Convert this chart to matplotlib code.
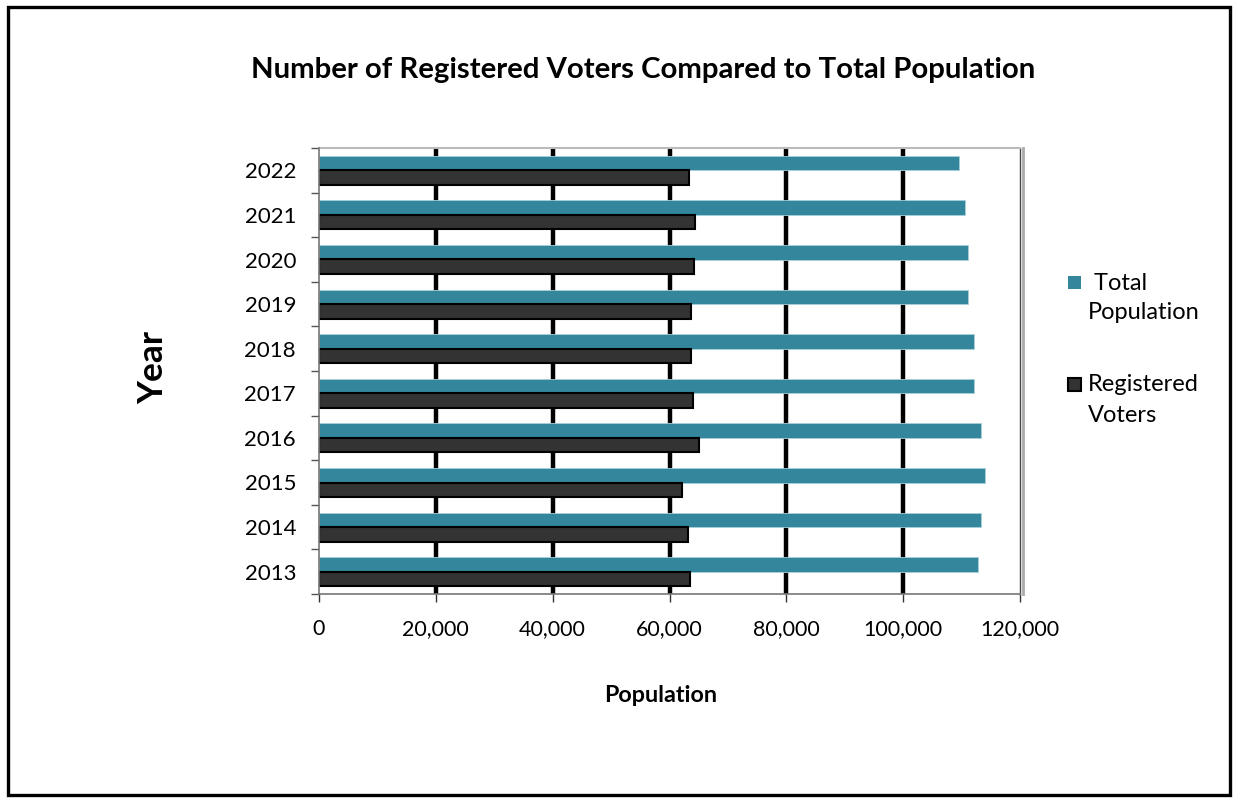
import matplotlib
matplotlib.use("Agg")
import matplotlib.pyplot as plt
from matplotlib.patches import Rectangle
from matplotlib.lines import Line2D
import numpy as np

years = ["2013", "2014", "2015", "2016", "2017", "2018", "2019", "2020", "2021", "2022"]
total_population = [112800, 113400, 114000, 113300, 112200, 112200, 111100, 111100, 110500, 109600]
registered_voters = [63500, 63200, 62100, 65000, 64000, 63700, 63600, 64200, 64400, 63300]
x_ticks = [0, 20000, 40000, 60000, 80000, 100000, 120000]
x_tick_labels = ["0", "20,000", "40,000", "60,000", "80,000", "100,000", "120,000"]

TEAL = "#33869c"
DARK = "#333333"

plt.rcParams["font.family"] = ["Lato", "DejaVu Sans"]

W, H = 1235, 798
fig = plt.figure(figsize=(W / 100, H / 100), dpi=100)
fig.patch.set_facecolor("white")

def fx(px):
    return px / W

def fy(py):
    return 1 - py / H

ax = fig.add_axes([fx(319), fy(594), fx(1020) - fx(319), fy(148) - fy(594)])

y = np.arange(len(years))
h = 0.325
ax.barh(y + h / 2, total_population, height=h, color=TEAL, edgecolor="#a8d0da", linewidth=0.6, zorder=3)
ax.barh(y - h / 2, registered_voters, height=h, color=DARK, edgecolor="black", linewidth=1.5, zorder=3)

ax.set_xlim(0, 120000)
ax.set_ylim(-0.5, len(years) - 0.5)

# gridlines
for v in x_ticks[1:-1]:
    ax.axvline(v, color="black", linewidth=3.2, zorder=1)

ax.set_xticks(x_ticks)
ax.set_xticklabels(x_tick_labels, fontsize=15.5)
ax.tick_params(axis="x", direction="out", length=6, width=1, color="#333333", pad=12)

ax.set_yticks(y)
ax.set_yticklabels(years, fontsize=16)
ax.set_yticks(np.arange(-0.5, len(years), 1), minor=True)
ax.tick_params(axis="y", which="major", length=0, pad=16.5)
ax.tick_params(axis="y", which="minor", direction="out", length=6, width=1, color="#555555")

for s in ["left", "bottom"]:
    ax.spines[s].set_color("#777777")
    ax.spines[s].set_linewidth(1.2)
ax.spines["left"].set_zorder(4)
ax.spines["top"].set_color("#bbbbbb")
ax.spines["top"].set_linewidth(1.5)
ax.spines["right"].set_color("#444444")
ax.spines["right"].set_linewidth(1.0)
ax.add_line(Line2D([1.0045, 1.0045], [0, 1], transform=ax.transAxes, color="#aaaaaa",
                   linewidth=2, clip_on=False))

fig.text(fx(643), fy(70), "Number of Registered Voters Compared to Total Population",
         ha="center", va="center", fontsize=21.2, fontweight="bold")
fig.text(fx(661), fy(695), "Population", ha="center", va="center", fontsize=16.8, fontweight="bold")
fig.text(fx(153), fy(368), "Year", ha="center", va="center", fontsize=25.5, fontweight="bold", rotation=90)

# legend
fig.patches.append(Rectangle((fx(1068), fy(289)), fx(13), fy(276) - fy(289), transform=fig.transFigure,
                             facecolor=TEAL, edgecolor="none"))
fig.text(fx(1088), fy(283), " Total", ha="left", va="center", fontsize=17)
fig.text(fx(1088), fy(313), "Population", ha="left", va="center", fontsize=17)
fig.patches.append(Rectangle((fx(1068), fy(391)), fx(13), fy(378) - fy(391), transform=fig.transFigure,
                             facecolor=DARK, edgecolor="black", linewidth=1.5))
fig.text(fx(1088), fy(385), "Registered", ha="left", va="center", fontsize=17)
fig.text(fx(1088), fy(415), "Voters", ha="left", va="center", fontsize=17)

# outer border
fig.patches.append(Rectangle((fx(8), fy(795)), fx(1230) - fx(8), fy(7) - fy(795), transform=fig.transFigure,
                             facecolor="none", edgecolor="black", linewidth=2.4))

fig.savefig("out.png", dpi=100)
